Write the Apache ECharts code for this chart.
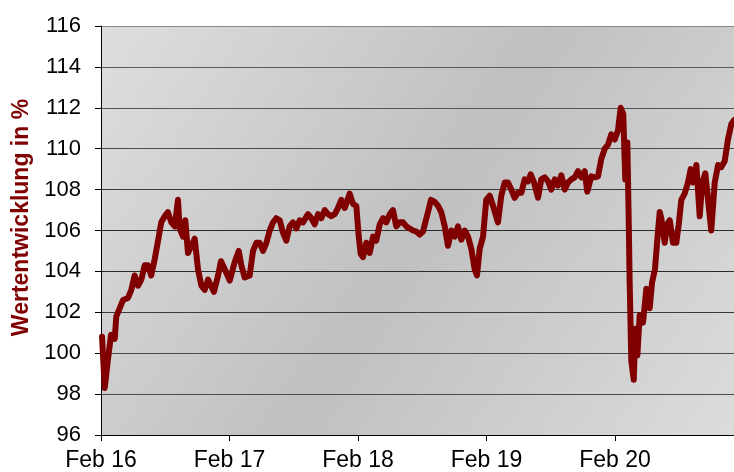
<!DOCTYPE html>
<html>
<head>
    <meta charset="utf-8" />
    <title>Wertentwicklung</title>
    <script src="https://cdn.jsdelivr.net/npm/echarts@6/dist/echarts.min.js"></script>
    <style>
        html, body { margin: 0; padding: 0; background: #fff; }
        #chart1 { width: 734px; height: 472px; }
    </style>
</head>
<body>
    <div id="chart1"></div>
    <script type="text/javascript">
        // x = Jahre seit Feb 2016, y = Wertentwicklung in %
        var tickLabels = ['Feb 16', 'Feb 17', 'Feb 18', 'Feb 19', 'Feb 20'];
        var xYears = [
            0.008, 0.029, 0.054, 0.078, 0.107, 0.119, 0.146, 0.171, 0.210, 0.236,
            0.262, 0.288, 0.314, 0.340, 0.366, 0.391, 0.418, 0.444, 0.469, 0.496,
            0.521, 0.547, 0.574, 0.599, 0.612, 0.638, 0.656, 0.677, 0.729, 0.755,
            0.781, 0.807, 0.833, 0.856, 0.879, 0.911, 0.934, 0.963, 1.002, 1.040,
            1.072, 1.092, 1.118, 1.157, 1.183, 1.209, 1.235, 1.261, 1.287, 1.313,
            1.339, 1.364, 1.391, 1.416, 1.442, 1.468, 1.494, 1.520, 1.546, 1.572,
            1.611, 1.637, 1.663, 1.689, 1.714, 1.741, 1.767, 1.792, 1.819, 1.844,
            1.870, 1.897, 1.935, 1.961, 1.987, 2.005, 2.021, 2.039, 2.065, 2.091,
            2.117, 2.142, 2.169, 2.195, 2.220, 2.247, 2.272, 2.298, 2.325, 2.350,
            2.376, 2.402, 2.428, 2.454, 2.480, 2.506, 2.524, 2.545, 2.568, 2.597,
            2.623, 2.648, 2.675, 2.700, 2.726, 2.753, 2.778, 2.804, 2.830, 2.856,
            2.882, 2.908, 2.926, 2.947, 2.973, 2.998, 3.025, 3.051, 3.089, 3.115,
            3.142, 3.167, 3.193, 3.219, 3.245, 3.271, 3.297, 3.323, 3.344, 3.370,
            3.401, 3.426, 3.453, 3.479, 3.504, 3.531, 3.556, 3.582, 3.609, 3.634,
            3.660, 3.686, 3.712, 3.738, 3.764, 3.784, 3.816, 3.842, 3.868, 3.893,
            3.920, 3.946, 3.971, 3.998, 4.023, 4.044, 4.064, 4.080, 4.096, 4.107,
            4.114, 4.127, 4.146, 4.158, 4.174, 4.192, 4.218, 4.244, 4.270, 4.288,
            4.311, 4.335, 4.348, 4.360, 4.387, 4.405, 4.426, 4.451, 4.477, 4.496,
            4.516, 4.542, 4.568, 4.589, 4.607, 4.633, 4.659, 4.679, 4.703, 4.724,
            4.749, 4.776, 4.802, 4.827, 4.854, 4.879, 4.905, 4.926
        ];
        var werte = [
            100.8, 98.3, 99.7, 100.9, 100.7, 101.8, 102.2, 102.6, 102.7, 103.1,
            103.8, 103.3, 103.6, 104.3, 104.3, 103.8, 104.6, 105.5, 106.4, 106.7,
            106.9, 106.4, 106.2, 107.5, 106.1, 105.7, 106.5, 104.9, 105.6, 104.1,
            103.3, 103.1, 103.6, 103.3, 103.0, 103.8, 104.5, 104.1, 103.55, 104.45,
            105.0, 104.3, 103.7, 103.8, 105.0, 105.4, 105.4, 105.0, 105.4, 106.0,
            106.4, 106.6, 106.5, 105.9, 105.5, 106.2, 106.4, 106.1, 106.5, 106.4,
            106.8, 106.6, 106.3, 106.8, 106.6, 107.0, 106.8, 106.7, 106.8, 107.1,
            107.5, 107.1, 107.8, 107.3, 107.2, 105.75, 104.85, 104.7, 105.4, 104.9,
            105.7, 105.5, 106.3, 106.6, 106.4, 106.8, 107.0, 106.2, 106.4, 106.4,
            106.2, 106.1, 106.0, 105.95, 105.8, 105.95, 106.4, 106.9, 107.5, 107.4,
            107.2, 106.9, 106.2, 105.25, 106.0, 105.7, 106.2, 105.55, 106.0, 105.7,
            105.1, 104.1, 103.8, 105.1, 105.7, 107.5, 107.7, 107.2, 106.4, 107.7,
            108.35, 108.35, 108.0, 107.6, 107.85, 107.85, 108.5, 108.4, 108.75, 108.35,
            107.6, 108.5, 108.6, 108.4, 108.0, 108.5, 108.2, 108.7, 108.0, 108.35,
            108.5, 108.6, 108.9, 108.6, 108.9, 107.9, 108.65, 108.6, 108.65, 109.5,
            110.0, 110.2, 110.7, 110.45, 110.9, 112.0, 111.7, 108.5, 110.3, 106.4,
            103.5, 99.6, 98.7, 101.2, 99.9, 101.85, 101.5, 103.15, 102.2, 103.45,
            104.1, 106.0, 106.9, 106.6, 105.4, 106.3, 106.5, 105.4, 105.4, 106.3,
            107.5, 107.8, 108.35, 109.0, 108.35, 109.2, 106.7, 108.35, 108.8, 107.5,
            106.0, 108.35, 109.2, 109.1, 109.4, 110.45, 111.2, 111.4
        ];

        var punkte = xYears.map(function (x, i) { return [x, werte[i]]; });
        var schrift = 'Arial, "Liberation Sans", sans-serif';

        var myChart1 = echarts.init(document.getElementById('chart1'), null, { renderer: 'canvas' });
        var option = {
            animation: false,
            grid: {
                left: 101,
                top: 26,
                right: 0,
                bottom: 35,
                show: true,
                borderWidth: 0,
                backgroundColor: {
                    type: 'linear', x: 0, y: 0, x2: 1, y2: 1,
                    colorStops: [
                        { offset: 0, color: '#dedede' },
                        { offset: 0.5, color: '#c0c0c0' },
                        { offset: 1, color: '#dcdcdc' }
                    ]
                }
            },
            xAxis: {
                type: 'value',
                min: 0,
                max: 4.926,
                interval: 1,
                axisLine: { show: true, lineStyle: { color: '#000', width: 1 } },
                axisTick: { show: true, length: 6, lineStyle: { color: '#000' } },
                splitLine: { show: false },
                axisLabel: {
                    margin: 14,
                    color: '#000',
                    fontSize: 23,
                    fontFamily: schrift,
                    showMaxLabel: false,
                    formatter: function (v) {
                        var k = Math.round(v);
                        return Math.abs(v - k) < 1e-6 && tickLabels[k] ? tickLabels[k] : '';
                    }
                }
            },
            yAxis: {
                type: 'value',
                min: 96,
                max: 116,
                interval: 2,
                name: 'Wertentwicklung in %',
                nameLocation: 'middle',
                nameGap: 67,
                nameTextStyle: {
                    color: '#800000',
                    fontSize: 23,
                    fontWeight: 'bold',
                    fontFamily: schrift,
                    padding: [0, 0, 0, 26]
                },
                axisLine: { show: true, lineStyle: { color: '#000', width: 1 } },
                axisTick: { show: true, length: 6, lineStyle: { color: '#000' } },
                axisLabel: {
                    margin: 20,
                    color: '#000',
                    fontSize: 22,
                    fontFamily: schrift
                },
                splitLine: {
                    show: true,
                    lineStyle: {
                        color: ['#000', '#4a4a4a', '#4a4a4a', '#3a3a3a', '#2a2a2a', '#2a2a2a',
                                '#3a3a3a', '#4a4a4a', '#555', '#5a5a5a', '#888'],
                        width: 1
                    }
                }
            },
            series: [
                {
                    type: 'line',
                    data: punkte,
                    showSymbol: false,
                    smooth: false,
                    lineStyle: { color: '#800000', width: 6, join: 'round', cap: 'round' }
                }
            ]
        };
        myChart1.setOption(option);
    </script>
</body>
</html>
